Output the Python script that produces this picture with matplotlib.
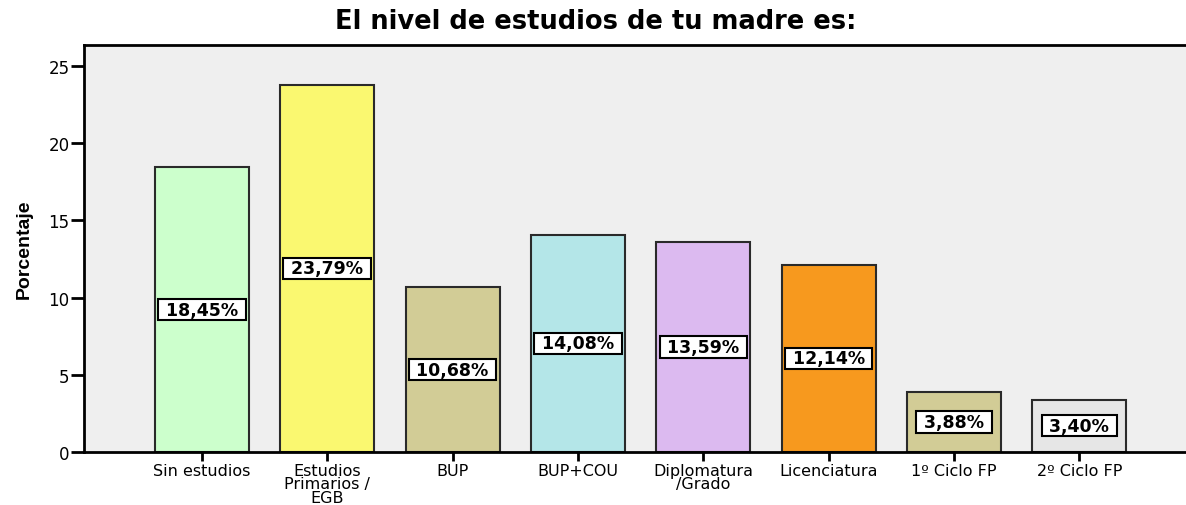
import matplotlib
matplotlib.use("Agg")
import matplotlib.pyplot as plt
from matplotlib import font_manager
from matplotlib.font_manager import FontProperties

categories = ["Sin estudios", "Estudios\nPrimarios /\nEGB", "BUP", "BUP+COU",
              "Diplomatura\n/Grado", "Licenciatura", "1º Ciclo FP", "2º Ciclo FP"]
values = [18.45, 23.79, 10.68, 14.08, 13.59, 12.14, 3.88, 3.40]
labels = ["18,45%", "23,79%", "10,68%", "14,08%", "13,59%", "12,14%", "3,88%", "3,40%"]
colors = ["#CCFFCC", "#FAF870", "#D2CC96", "#B4E6E8", "#DCBAF0", "#F7991E", "#D2CC96", "#E6E6E6"]
yticks = [0, 5, 10, 15, 20, 25]

# find a bold narrow font file for the y label
ylab_fp = None
for f in font_manager.fontManager.ttflist:
    if f.name == "Liberation Sans Narrow" and f.weight in (700, "bold"):
        ylab_fp = FontProperties(fname=f.fname, size=15.5)
        break
if ylab_fp is None:
    ylab_fp = FontProperties(family=["Liberation Sans", "DejaVu Sans"], weight="bold", size=14)

plt.rcParams['font.family'] = ['DejaVu Sans']

fig = plt.figure(figsize=(11.86, 5.06), dpi=100)
ax = fig.add_axes([84/1186, 1-453/506, 1-84/1186, (453-46)/506])
ax.set_facecolor("#EFEFEF")

x = list(range(len(categories)))
ax.bar(x, values, width=0.75, color=colors, edgecolor="#2a2a2a", linewidth=1.5, zorder=2)
for xi, v, lab in zip(x, values, labels):
    ax.text(xi, v/2, f" {lab} ", ha="center", va="center", fontsize=12.5, fontweight="bold",
            bbox=dict(boxstyle="square,pad=0.1", fc="white", ec="black", lw=1.5), zorder=3)

ax.set_xlim(-0.94, 7.85)
ax.set_ylim(0, 26.36)
ax.set_yticks(yticks)
ax.set_xticks(x)
ax.set_xticklabels(categories, fontsize=11.5, linespacing=0.86)
ax.tick_params(axis="y", length=9.5, width=2, labelsize=12, pad=1)
ax.tick_params(axis="x", length=6.5, width=2, pad=1.5)
for s in ["left", "bottom", "top"]:
    ax.spines[s].set_linewidth(2)
    ax.spines[s].set_color("black")
ax.spines["right"].set_visible(False)

ax.set_ylabel("Porcentaje", fontproperties=ylab_fp)
ax.yaxis.set_label_coords((33-84)/1102, 0.5)
fig.text(596/1186, 1-22/506, "El nivel de estudios de tu madre es:", ha="center", va="center",
         fontsize=18.5, fontweight="bold")

fig.savefig("out.png", dpi=100)
